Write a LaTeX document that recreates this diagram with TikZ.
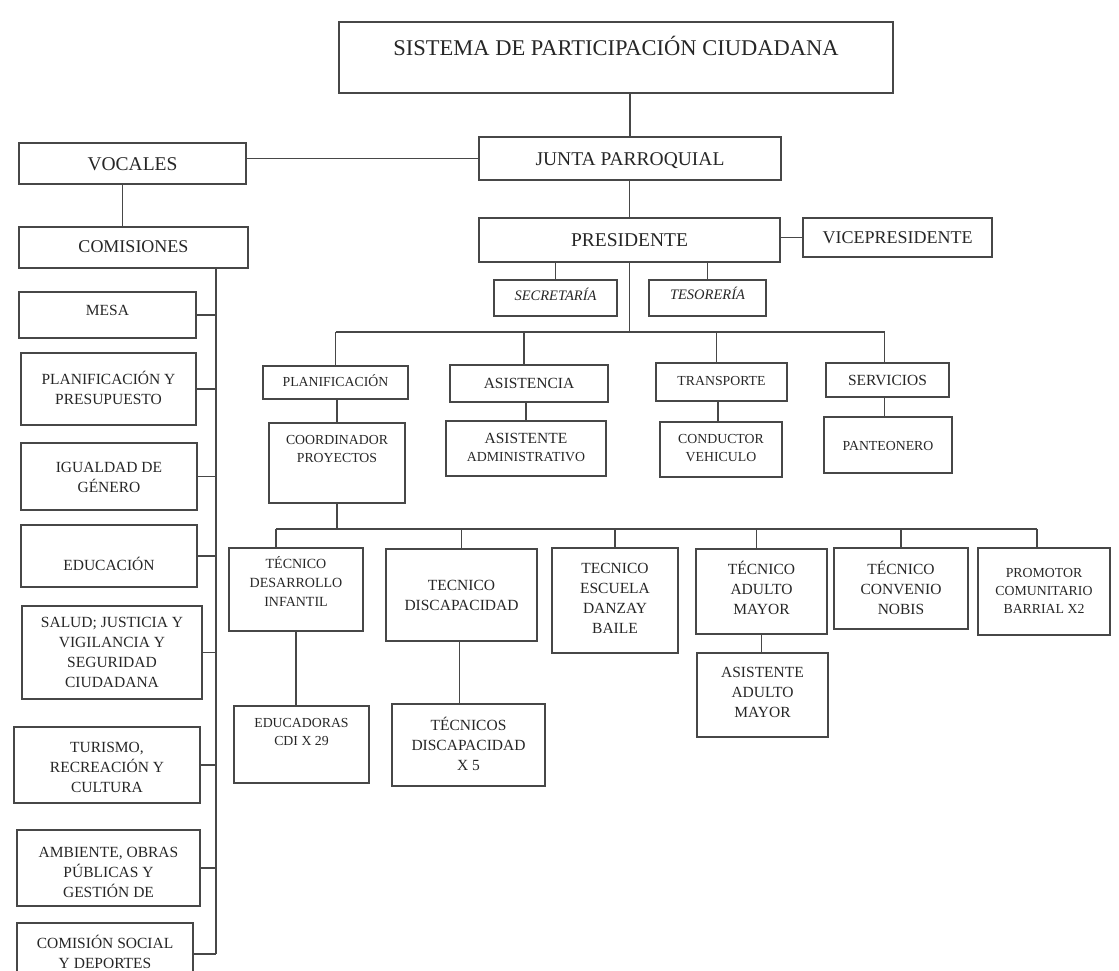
\documentclass[tikz,border=0pt]{standalone}
\usepackage{fontspec}
\setmainfont{Liberation Serif}
\usetikzlibrary{fit,calc}
\tikzset{
  bx/.style={draw=black!72, line width=1.7pt, inner sep=0pt},
  ln/.style={draw=black!72, line width=1.8pt},
  tx/.style={inner sep=0pt, align=center, text=black!85},
  fA/.style={font=\fontsize{22.5}{27}\selectfont, text height=14.9pt, text depth=0pt},
  fB/.style={font=\fontsize{19.5}{23}\selectfont, text height=12.9pt, text depth=0pt},
  fC/.style={font=\fontsize{18}{22}\selectfont, text height=11.9pt, text depth=0pt},
  fL/.style={font=\fontsize{15.5}{19.8}\selectfont, text height=10.2pt, text depth=0pt},
  fM/.style={font=\fontsize{14}{19}\selectfont, text height=9.3pt, text depth=0pt},
  fS/.style={font=\fontsize{13.8}{18}\selectfont, text height=9.1pt, text depth=0pt},
  fI/.style={font=\fontsize{14.5}{18}\selectfont\itshape, text height=9.6pt, text depth=0pt},
}
% name x1 y1 x2 y2 style y-of-last-line text
\newcommand{\bx}[8]{%
  \node[bx, fit={(#2,#3) (#4,#5)}] (#1) {};
  \node[tx,#6] (#1t) at ({(#2+#4)/2},#7) {#8};}
\begin{document}
\begin{tikzpicture}[x=1pt,y=-1pt]
\useasboundingbox (0,0) rectangle (1119,970);
\clip (0,0) rectangle (1119,970);

\bx{sis}{339}{22}{893}{93}{fA}{48}{SISTEMA DE PARTICIPACIÓN CIUDADANA}
\bx{junta}{479}{137}{781}{180}{fB}{159}{JUNTA PARROQUIAL}
\bx{voc}{19}{143}{246}{184}{fB}{164}{VOCALES}
\bx{com}{19}{227}{248}{268}{fC}{247}{COMISIONES}
\bx{pres}{479}{218}{780}{262}{fB}{240}{PRESIDENTE}
\bx{vice}{803}{218}{992}{257}{fC}{238}{VICEPRESIDENTE}
\bx{sec}{494}{280}{617}{316}{fI}{296}{SECRETARÍA}
\bx{tes}{649}{280}{766}{316}{fI}{295}{TESORERÍA}
\bx{plan}{263}{366}{408}{399}{fS}{382}{PLANIFICACIÓN}
\bx{asis}{450}{365}{608}{402}{fL}{383}{ASISTENCIA}
\bx{trans}{656}{363}{787}{401}{fS}{381}{TRANSPORTE}
\bx{serv}{826}{363}{949}{397}{fL}{380}{SERVICIOS}
\bx{coord}{269}{423}{405}{503}{fS}{458}{COORDINADOR\\PROYECTOS}
\bx{aadm}{446}{421}{606}{476}{fS}{457}{{\fontsize{15.5}{18}\selectfont ASISTENTE}\\ADMINISTRATIVO}
\bx{cond}{660}{422}{782}{477}{fS}{457}{CONDUCTOR\\VEHICULO}
\bx{pant}{824}{417}{952}{473}{fS}{446}{PANTEONERO}

% left column
\bx{mesa}{19}{292}{196}{338}{fL}{310}{MESA}
\bx{lplan}{21}{353}{196}{425}{fL}{399}{PLANIFICACIÓN Y\\PRESUPUESTO}
\bx{igu}{21}{443}{197}{510}{fL}{487}{IGUALDAD DE\\GÉNERO}
\bx{edu}{21}{525}{197}{587}{fL}{565}{EDUCACIÓN}
\bx{sal}{22}{606}{202}{699}{fL}{682}{SALUD; JUSTICIA Y\\VIGILANCIA Y\\SEGURIDAD\\CIUDADANA}
\bx{tur}{14}{727}{200}{803}{fL}{787}{TURISMO,\\RECREACIÓN Y\\CULTURA}
\bx{amb}{17}{830}{200}{906}{fL}{892}{AMBIENTE, OBRAS\\PÚBLICAS Y\\GESTIÓN DE}
\bx{soc}{17}{923}{193}{985}{fL}{963}{COMISIÓN SOCIAL\\Y DEPORTES}

% lower row
\bx{td}{229}{548}{363}{631}{fM}{602}{TÉCNICO\\DESARROLLO\\INFANTIL}
\bx{disc}{386}{549}{537}{641}{fL}{605}{TECNICO\\DISCAPACIDAD}
\bx{danza}{552}{548}{678}{653}{fL}{628}{TECNICO\\ESCUELA\\DANZAY\\BAILE}
\bx{adul}{696}{549}{827}{634}{fL}{609}{TÉCNICO\\ADULTO\\MAYOR}
\bx{nobis}{834}{548}{968}{629}{fL}{609}{TÉCNICO\\CONVENIO\\NOBIS}
\bx{prom}{978}{548}{1110}{635}{fS}{609}{PROMOTOR\\COMUNITARIO\\BARRIAL X2}
\bx{educ}{234}{706}{369}{783}{fS}{741}{EDUCADORAS\\CDI X 29}
\bx{tdis}{392}{704}{545}{786}{fL}{765}{TÉCNICOS\\DISCAPACIDAD\\X 5}
\bx{aam}{697}{653}{828}{737}{fL}{712}{ASISTENTE\\ADULTO\\MAYOR}

\coordinate (bus1) at (0,332);
\coordinate (bus2) at (0,529);
\coordinate (cb) at (216,0);

% top connectors
\draw[ln] (sis.south -| junta.north) -- (junta.north);
\draw[ln] (voc.east |- junta.west) -- (junta.west);
\draw[ln] ([xshift=-10pt]voc.south) -- ([xshift=-10pt]voc.south |- com.north);
\draw[ln] (pres.north |- junta.south) -- (pres.north);
\draw[ln] (pres.east |- vice.west) -- (vice.west);
\draw[ln] (sec.north) -- (sec.north |- pres.south);
\draw[ln] (tes.north) -- (tes.north |- pres.south);
\draw[ln] (pres.south) -- (pres.south |- bus1);
\draw[ln] (plan.north |- bus1) -- ([xshift=-3pt]serv.north |- bus1);
\draw[ln] (plan.north) -- (plan.north |- bus1);
\draw[ln] ([xshift=-5pt]asis.north) -- ([xshift=-5pt]asis.north |- bus1);
\draw[ln] ([xshift=-5pt]trans.north) -- ([xshift=-5pt]trans.north |- bus1);
\draw[ln] ([xshift=-3pt]serv.north) -- ([xshift=-3pt]serv.north |- bus1);
\draw[ln] (coord.north) -- (coord.north |- plan.south);
\draw[ln] (aadm.north) -- (aadm.north |- asis.south);
\draw[ln] ([xshift=-3pt]cond.north) -- ([xshift=-3pt]cond.north |- trans.south);
\draw[ln] ([xshift=-3pt]serv.south) -- ([xshift=-3pt]serv.south |- pant.north);

% lower bus
\draw[ln] (coord.south) -- (coord.south |- bus2);
\draw[ln] ([xshift=-20pt]td.north |- bus2) -- ([xshift=-7pt]prom.north |- bus2);
\draw[ln] ([xshift=-20pt]td.north) -- ([xshift=-20pt]td.north |- bus2);
\draw[ln] (disc.north) -- (disc.north |- bus2);
\draw[ln] (danza.north) -- (danza.north |- bus2);
\draw[ln] ([xshift=-5pt]adul.north) -- ([xshift=-5pt]adul.north |- bus2);
\draw[ln] (nobis.north) -- (nobis.north |- bus2);
\draw[ln] ([xshift=-7pt]prom.north) -- ([xshift=-7pt]prom.north |- bus2);
\draw[ln] (td.south) -- (td.south |- educ.north);
\draw[ln] ([xshift=-2pt]disc.south) -- ([xshift=-2pt]disc.south |- tdis.north);
\draw[ln] (adul.south) -- (adul.south |- aam.north);

% comisiones bus
\draw[ln] (cb |- com.south) -- (cb |- soc.east);
\foreach \n in {mesa,lplan,igu,edu,sal,tur,amb,soc}
  \draw[ln] (\n.east) -- (\n.east -| cb);
\end{tikzpicture}
\end{document}
